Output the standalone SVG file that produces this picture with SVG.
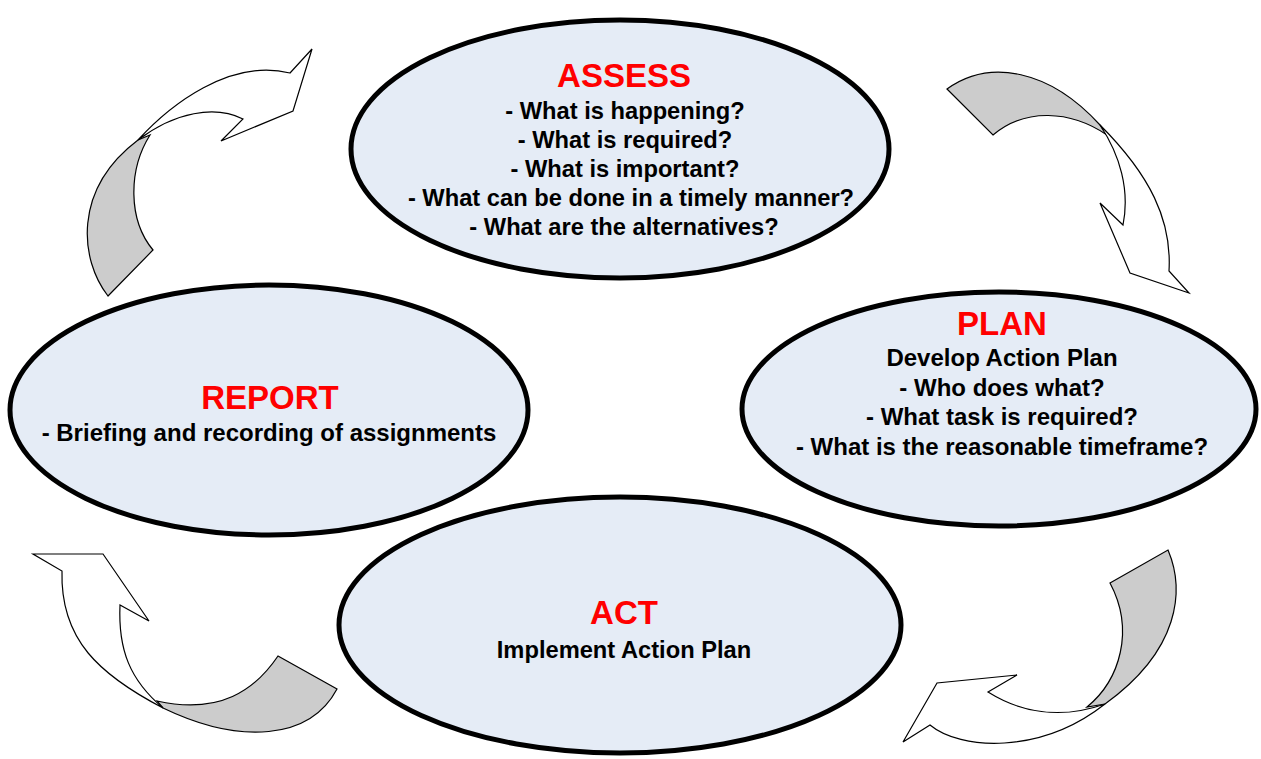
<svg xmlns="http://www.w3.org/2000/svg" width="1261" height="759" viewBox="0 0 1261 759">
<style>
.node ellipse{fill:#E5ECF6;stroke:#000;stroke-width:5}
.title{font-family:"Liberation Sans",Arial,sans-serif;font-weight:bold;font-size:33px;fill:#FF0000;text-anchor:middle}
.body{font-family:"Liberation Sans",Arial,sans-serif;font-weight:bold;font-size:23.7px;fill:#000;text-anchor:middle}
.back{fill:#CCCCCC;stroke:#000;stroke-width:1.2;stroke-linejoin:miter}
.front{fill:#FFFFFF;stroke:#000;stroke-width:1.2;stroke-linejoin:miter}
</style>
<rect width="1261" height="759" fill="#fff"/>
<g id="connectors">
  <g id="arrow-report-assess">
    <path class="back" d="M108,296 C80,260 72,190 138,140 L150,135 C128,170 128,220 153,250 Z"/>
    <path class="front" d="M138,140 C170,105 230,58 290,73 L312,49 L293,111 L221,141 L243,119 C215,105 175,112 138,140 Z"/>
  </g>
  <g id="arrow-assess-plan">
    <path class="back" d="M947,89 C990,58 1050,70 1100,125 L1107,135 C1070,110 1025,108 993,135 Z"/>
    <path class="front" d="M1100,125 C1150,175 1172,220 1169,271 L1189,293 L1130,273 L1100,203 L1123,225 C1130,190 1120,155 1100,125 Z"/>
  </g>
  <g id="arrow-plan-act">
    <path class="back" d="M1110,583 L1168,550 C1185,590 1180,650 1105,704 L1087,707 C1120,680 1135,630 1110,583 Z"/>
    <path class="front" d="M1105,704 C1060,720 1020,712 988,692 L1017,675 L937,683 L903,742 L930,725 C960,750 1040,755 1105,704 Z"/>
  </g>
  <g id="arrow-act-report">
    <path class="back" d="M278,656 L337,689 C310,740 240,745 163,708 L157,701 C220,715 255,690 278,656 Z"/>
    <path class="front" d="M163,708 C100,675 60,640 62,571 L33,554 L103,554 L149,621 L120,605 C118,650 130,680 163,708 Z"/>
  </g>
</g>
<g id="assess" class="node">
  <ellipse cx="620" cy="149" rx="269" ry="129"/>
  <text class="title" x="624" y="87">ASSESS</text>
  <text class="body" x="625" y="119">- What is happening?</text>
  <text class="body" x="625" y="148">- What is required?</text>
  <text class="body" x="625" y="177">- What is important?</text>
  <text class="body" x="631" y="206">- What can be done in a timely manner?</text>
  <text class="body" x="624" y="235">- What are the alternatives?</text>
</g>
<g id="plan" class="node">
  <ellipse cx="999" cy="409" rx="257" ry="117"/>
  <text class="title" x="1002" y="335">PLAN</text>
  <text class="body" x="1002" y="366" style="font-size:24px">Develop Action Plan</text>
  <text class="body" x="1002" y="396" style="font-size:24px">- Who does what?</text>
  <text class="body" x="1002" y="425" style="font-size:24px">- What task is required?</text>
  <text class="body" x="1002" y="455" style="font-size:24px">- What is the reasonable timeframe?</text>
</g>
<g id="report" class="node">
  <ellipse cx="269" cy="410" rx="259" ry="125"/>
  <text class="title" x="270" y="409">REPORT</text>
  <text class="body" x="269" y="441" style="font-size:24px">- Briefing and recording of assignments</text>
</g>
<g id="act" class="node">
  <ellipse cx="620" cy="625" rx="281" ry="128"/>
  <text class="title" x="624" y="624">ACT</text>
  <text class="body" x="624" y="658">Implement Action Plan</text>
</g>
</svg>
